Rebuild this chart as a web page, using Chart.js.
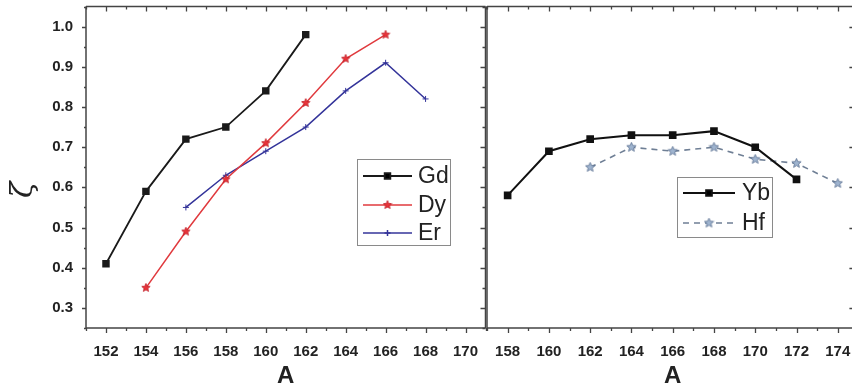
<!DOCTYPE html>
<html><head><meta charset="utf-8">
<script src="https://cdn.jsdelivr.net/npm/chart.js@4.4.0/dist/chart.umd.min.js"></script>
<style>
html,body{margin:0;padding:0;background:#fff;width:852px;height:391px;overflow:hidden;position:relative;}
canvas{position:absolute;top:0;}
#cL{left:0;} #cR{left:480px;}
</style></head><body>
<canvas id="cL" width="492" height="391"></canvas>
<canvas id="cR" width="385" height="391"></canvas>
<script>
// ---- data ----
const gdA = [152, 154, 156, 158, 160, 162];
const gdZ = [0.41, 0.59, 0.72, 0.75, 0.84, 0.98];
const dyA = [154, 156, 158, 160, 162, 164, 166];
const dyZ = [0.35, 0.49, 0.62, 0.71, 0.81, 0.92, 0.98];
const erA = [156, 158, 160, 162, 164, 166, 168];
const erZ = [0.55, 0.63, 0.69, 0.75, 0.84, 0.91, 0.82];
const ybA = [158, 160, 162, 164, 166, 168, 170, 172];
const ybZ = [0.58, 0.69, 0.72, 0.73, 0.73, 0.74, 0.70, 0.62];
const hfA = [162, 164, 166, 168, 170, 172, 174];
const hfZ = [0.65, 0.70, 0.69, 0.70, 0.67, 0.66, 0.61];
const xTicksLeft = [152, 154, 156, 158, 160, 162, 164, 166, 168, 170];
const xTicksRight = [158, 160, 162, 164, 166, 168, 170, 172, 174];
const yTicks = [0.3, 0.4, 0.5, 0.6, 0.7, 0.8, 0.9, 1.0];
const seriesNames = ['Gd', 'Dy', 'Er', 'Yb', 'Hf'];

const pts = (a, z) => a.map((v, i) => ({x: v, y: z[i]}));

function starImg(size, fill, stroke) {
  const c = document.createElement('canvas'); c.width = c.height = size;
  const g = c.getContext('2d');
  const r = size / 2 - 0.6, ri = r * 0.45, cx = size / 2, cy = size / 2;
  g.beginPath();
  for (let i = 0; i < 10; i++) {
    const ang = -Math.PI / 2 + i * Math.PI / 5, rr = i % 2 ? ri : r;
    g.lineTo(cx + rr * Math.cos(ang), cy + rr * Math.sin(ang));
  }
  g.closePath(); g.fillStyle = fill; g.fill();
  g.strokeStyle = stroke; g.lineWidth = 0.8; g.stroke();
  return c;
}
const redStar = starImg(10, '#e8343a', '#c02028');
const hfStar = starImg(11, '#9fb4cf', '#5a7090');

const FONT = "'Liberation Sans', Arial, sans-serif";
const AXC = '#444';

const framePlugin = {
  id: 'frame',
  afterDraw(chart, args, o) {
    const {ctx, chartArea: a, scales: {x, y}} = chart;
    ctx.save();
    ctx.strokeStyle = AXC; ctx.lineWidth = 1.5; ctx.lineCap = 'butt';
    ctx.beginPath();
    ctx.moveTo(a.left, a.top); ctx.lineTo(a.right, a.top);
    ctx.moveTo(a.left, a.bottom); ctx.lineTo(a.right, a.bottom);
    ctx.moveTo(a.left, a.top); ctx.lineTo(a.left, a.bottom);
    ctx.moveTo(a.right, a.top); ctx.lineTo(a.right, a.bottom);
    ctx.stroke();
    ctx.lineWidth = 1.3;
    ctx.beginPath();
    for (let v = Math.ceil(x.min); v <= x.max; v++) {
      const px = Math.round(x.getPixelForValue(v)) + 0.5;
      const maj = v % 2 === 0;
      const L = maj ? 5 : 3;
      ctx.moveTo(px, a.bottom); ctx.lineTo(px, a.bottom + L);
      ctx.moveTo(px, a.top); ctx.lineTo(px, a.top + L);
    }
    for (let k = 5; k <= 21; k++) {
      const py = Math.round(y.getPixelForValue(k * 0.05)) + 0.5;
      const maj = k % 2 === 0;
      if (o.leftOut) { ctx.moveTo(a.left - (maj ? 4 : 2), py); ctx.lineTo(a.left, py); }
      if (o.rightIn) { const L = (maj ? o.rightIn : o.rightIn * 0.6); ctx.moveTo(a.right - L, py); ctx.lineTo(a.right, py); }
    }
    ctx.stroke();
    ctx.restore();
  }
};

const legendPlugin = {
  id: 'boxLegend',
  afterDraw(chart, args, o) {
    const {ctx} = chart;
    const off = o.offset;
    ctx.save();
    ctx.strokeStyle = '#8a8a8a'; ctx.lineWidth = 1;
    ctx.strokeRect(o.box[0] - off + 0.5, o.box[1] + 0.5, o.box[2] - o.box[0], o.box[3] - o.box[1]);
    chart.data.datasets.forEach((ds, i) => {
      const yy = o.rows[i];
      ctx.save();
      ctx.strokeStyle = ds.borderColor; ctx.lineWidth = ds.borderWidth;
      ctx.setLineDash(ds.borderDash || []);
      ctx.beginPath(); ctx.moveTo(o.line[0] - off, yy); ctx.lineTo(o.line[1] - off, yy); ctx.stroke();
      ctx.setLineDash([]);
      Chart.helpers.drawPoint(ctx, {pointStyle: ds.pointStyle, radius: ds.pointRadius, borderWidth: ds.borderWidth, rotation: 0},
        (o.line[0] + o.line[1]) / 2 - off, yy);
      ctx.restore();
      ctx.fillStyle = '#222'; ctx.font = '23px ' + FONT; ctx.textBaseline = 'middle'; ctx.textAlign = 'left';
      ctx.fillText(ds.label, o.textX - off, yy + 1);
    });
    ctx.restore();
  }
};

function zeroPad(s) { s.paddingTop = 0; s.paddingBottom = 0; s.paddingLeft = 0; s.paddingRight = 0; }

function xScale(min, max, tickVals) {
  return {
    type: 'linear', min, max,
    grid: {display: false}, border: {display: false},
    afterBuildTicks: s => { s.ticks = tickVals.map(v => ({value: v})); },
    afterFit: s => { s.height = 63; zeroPad(s); },
    ticks: {color: '#222', font: {family: FONT, size: 15, weight: 'bold'}, padding: 7, maxRotation: 0, autoSkip: false},
    title: {display: true, text: 'A', color: '#222', font: {family: FONT, size: 24, weight: 'bold'}, padding: {top: 0, bottom: 0}}
  };
}
function yScale(show) {
  return {
    type: 'linear', min: 0.25, max: 1.05, display: show,
    grid: {display: false}, border: {display: false},
    afterBuildTicks: s => { s.ticks = yTicks.map(v => ({value: v})); },
    afterFit: s => { s.width = show ? 86 : 0; zeroPad(s); },
    ticks: {color: '#222', font: {family: FONT, size: 15, weight: 'bold'}, padding: 5, callback: v => v.toFixed(1)},
    title: {display: true, text: 'ζ\u2002\u2002\u2002', color: '#222', font: {family: "'DejaVu Serif', serif", size: 30, style: 'italic'}, padding: {top: 6, bottom: 0}}
  };
}

const common = {
  responsive: false, devicePixelRatio: 1, animation: false,
  plugins: {legend: {display: false}, tooltip: {enabled: false}}
};

new Chart(document.getElementById('cL'), {
  type: 'line',
  data: {datasets: [
    {label: seriesNames[0], data: pts(gdA, gdZ), borderColor: '#1a1a1a', backgroundColor: '#1a1a1a', borderWidth: 1.8, pointStyle: 'rect', pointRadius: 4, tension: 0},
    {label: seriesNames[1], data: pts(dyA, dyZ), borderColor: '#e03a3e', backgroundColor: '#e03a3e', borderWidth: 1.5, pointStyle: redStar, pointRadius: 5, tension: 0},
    {label: seriesNames[2], data: pts(erA, erZ), borderColor: '#34349a', backgroundColor: '#34349a', borderWidth: 1.5, pointStyle: 'cross', pointRadius: 3, pointBorderWidth: 1, tension: 0}
  ]},
  options: Object.assign({}, common, {
    layout: {padding: {left: 0, top: 3, right: 5, bottom: 0}},
    scales: {x: xScale(151, 171, xTicksLeft), y: yScale(true)},
    plugins: Object.assign({}, common.plugins, {
      frame: {leftOut: true, rightIn: 5},
      boxLegend: {offset: 0, box: [357, 159, 450, 245], line: [363, 412], textX: 418, rows: [176, 205, 233]}
    })
  }),
  plugins: [framePlugin, legendPlugin]
});

new Chart(document.getElementById('cR'), {
  type: 'line',
  data: {datasets: [
    {label: seriesNames[3], data: pts(ybA, ybZ), borderColor: '#111', backgroundColor: '#111', borderWidth: 2, pointStyle: 'rect', pointRadius: 4, tension: 0},
    {label: seriesNames[4], data: pts(hfA, hfZ), borderColor: '#6f7f95', backgroundColor: '#9fb4cf', borderWidth: 1.6, borderDash: [6, 5], pointStyle: hfStar, pointRadius: 5, tension: 0}
  ]},
  options: Object.assign({}, common, {
    layout: {padding: {left: 7, top: 3, right: 5, bottom: 0}},
    scales: {x: xScale(157, 175, xTicksRight), y: yScale(false)},
    plugins: Object.assign({}, common.plugins, {
      frame: {leftOut: false, rightIn: 9},
      boxLegend: {offset: 480, box: [677, 177, 772, 237], line: [683, 735], textX: 742, rows: [193, 223]}
    })
  }),
  plugins: [framePlugin, legendPlugin]
});
</script>
</body></html>
